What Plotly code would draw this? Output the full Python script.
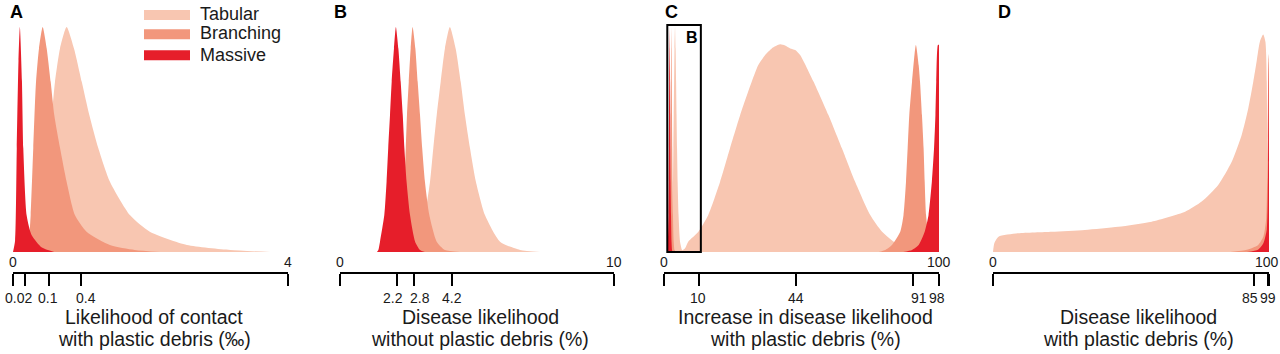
import plotly.graph_objects as go

# ---------------- data ----------------
SERIES = ["Tabular", "Branching", "Massive"]
COLORS = {"Tabular": "#F8C6B1", "Branching": "#F2977C", "Massive": "#E61E2A"}

PANEL_LETTERS = ["A", "B", "C", "D"]
X_MAX = [4, 10, 100, 100]
END_LABELS = [("0", "4"), ("0", "10"), ("0", "100"), ("0", "100")]
TICK_LABELS = [["0.02", "0.1", "0.4"], ["2.2", "2.8", "4.2"],
               ["10", "44", "91", "98"], ["85", "99"]]
# where each labelled tick sits on the drawn axis (axis units, as printed)
TICK_POS = [[0.175, 0.524, 0.989], [2.07, 2.70, 4.08],
            [12.7, 48.0, 90.6, 100], [94.6, 99.8]]
TITLES = [("Likelihood of contact", "with plastic debris (‰)"),
          ("Disease likelihood", "without plastic debris (%)"),
          ("Increase in disease likelihood", "with plastic debris (%)"),
          ("Disease likelihood", "with plastic debris (%)")]

# Panel A : likelihood of contact (‰), relative density
A_TAB_X = [0.218, 0.272, 0.364, 0.49, 0.563, 0.611, 0.684, 0.78, 0.887, 1.0, 1.11, 1.24, 1.41, 1.70, 1.99, 2.53, 3.16, 3.74]
A_TAB_Y = [0, 0.018, 0.164, 0.462, 0.609, 0.757, 0.905, 1.0, 0.905, 0.757, 0.609, 0.462, 0.312, 0.164, 0.09, 0.031, 0.009, 0]
A_BRA_X = [0.19, 0.22, 0.257, 0.295, 0.335, 0.378, 0.432, 0.49, 0.548, 0.60, 0.684, 0.78, 0.90, 1.07, 1.41, 1.77, 2.14]
A_BRA_Y = [0, 0.018, 0.164, 0.462, 0.757, 0.905, 1.0, 0.905, 0.757, 0.609, 0.462, 0.312, 0.164, 0.09, 0.031, 0.009, 0]
A_MAS_X = [0.0, 0.03, 0.055, 0.08, 0.10, 0.13, 0.15, 0.20, 0.27, 0.42, 0.60]
A_MAS_Y = [0.0, 0.05, 0.46, 0.85, 1.0, 0.76, 0.46, 0.16, 0.076, 0.02, 0.0]

# Panel B : disease likelihood without plastic debris (%)
B_TAB_X = [2.3, 2.555, 2.86, 3.10, 3.285, 3.405, 3.53, 3.675, 3.83, 4.01, 4.22, 4.405, 4.56, 4.745, 4.96, 5.29, 5.84, 6.57, 7.3]
B_TAB_Y = [0, 0.009, 0.046, 0.164, 0.312, 0.461, 0.609, 0.757, 0.905, 1.0, 0.905, 0.757, 0.609, 0.461, 0.312, 0.164, 0.046, 0.009, 0]
B_BRA_X = [1.6, 1.82, 2.07, 2.25, 2.35, 2.40, 2.445, 2.51, 2.58, 2.65, 2.75, 2.835, 2.92, 3.0, 3.10, 3.26, 3.53, 3.83, 4.38]
B_BRA_Y = [0, 0.009, 0.046, 0.164, 0.312, 0.461, 0.609, 0.757, 0.905, 1.0, 0.905, 0.757, 0.609, 0.461, 0.312, 0.164, 0.046, 0.009, 0]
B_MAS_X = [1.35, 1.40, 1.46, 1.617, 1.70, 1.76, 1.825, 1.887, 1.97, 2.04, 2.13, 2.215, 2.29, 2.35, 2.43, 2.555, 2.74, 2.92, 3.1]
B_MAS_Y = [0, 0.009, 0.046, 0.164, 0.312, 0.461, 0.609, 0.757, 0.905, 1.0, 0.905, 0.757, 0.609, 0.461, 0.312, 0.164, 0.046, 0.009, 0]

# Panel C : increase in disease likelihood with plastic debris (%)
C_TAB_X = [5.5, 7.6, 8.8, 12.5, 16.1, 20.4, 24.0, 27.7, 31.9, 34.3, 36.8, 39.2, 42.2, 44.0, 45.9, 47.7, 49.5, 54.4, 59.8, 64.7, 69.5, 75.0, 79.3, 85.3, 93.8, 97]
C_TAB_Y = [0, 0.016, 0.046, 0.09, 0.164, 0.312, 0.461, 0.609, 0.757, 0.831, 0.876, 0.905, 0.923, 0.918, 0.905, 0.898, 0.876, 0.757, 0.609, 0.461, 0.312, 0.164, 0.09, 0.031, 0.009, 0]
C_BRA_X = [78, 80.5, 82.9, 85.9, 87.1, 88.0, 88.6, 89.2, 90.2, 91.6, 92.6, 93.1, 93.8, 94.4, 94.8, 95.3, 96.0, 97.4, 99.2, 100]
C_BRA_Y = [0, 0.009, 0.031, 0.09, 0.164, 0.312, 0.461, 0.609, 0.757, 0.92, 0.831, 0.757, 0.609, 0.461, 0.312, 0.164, 0.09, 0.031, 0.009, 0]
C_MAS_X = [87, 90.2, 92.6, 94.8, 96.2, 97.4, 98.2, 98.7, 99.0, 99.6, 100, 100]
C_MAS_Y = [0, 0.009, 0.031, 0.09, 0.164, 0.312, 0.461, 0.609, 0.757, 0.92, 0.92, 0]

# Panel D : disease likelihood with plastic debris (%)
D_TAB_X = [0, 0.5, 2.0, 9.2, 21.3, 33.3, 45.4, 57.5, 69.6, 75.6, 81.6, 86.5, 90.1, 92.5, 94.3, 95.5, 96.7, 97.9, 98.7, 99.2, 99.3]
D_TAB_Y = [0, 0.04, 0.068, 0.083, 0.09, 0.098, 0.112, 0.135, 0.179, 0.224, 0.298, 0.401, 0.52, 0.639, 0.757, 0.846, 0.935, 0.967, 0.935, 0.757, 0]
D_BRA_X = [86, 92, 96, 98, 99.0, 99.5, 99.8, 100, 100]
D_BRA_Y = [0, 0.01, 0.03, 0.07, 0.15, 0.5, 0.85, 0.88, 0]
D_MAS_X = [92, 96, 98, 99.2, 99.7, 100, 100]
D_MAS_Y = [0, 0.01, 0.04, 0.1, 0.4, 0.85, 0]

PANEL_DATA = [
    [("Tabular", A_TAB_X, A_TAB_Y), ("Branching", A_BRA_X, A_BRA_Y), ("Massive", A_MAS_X, A_MAS_Y)],
    [("Tabular", B_TAB_X, B_TAB_Y), ("Branching", B_BRA_X, B_BRA_Y), ("Massive", B_MAS_X, B_MAS_Y)],
    [("Tabular", C_TAB_X, C_TAB_Y),
     ("Tabular", B_TAB_X, B_TAB_Y), ("Branching", B_BRA_X, B_BRA_Y), ("Massive", B_MAS_X, B_MAS_Y),
     ("Branching", C_BRA_X, C_BRA_Y), ("Massive", C_MAS_X, C_MAS_Y)],
    [("Tabular", D_TAB_X, D_TAB_Y), ("Branching", D_BRA_X, D_BRA_Y), ("Massive", D_MAS_X, D_MAS_Y)],
]

# ---------------- layout geometry (pixels) ----------------
W, H = 1280, 354
FONT = "Liberation Sans, Arial, Helvetica, sans-serif"
TXT = "#1a1a1a"
X_DOMAINS_PX = [(13, 288), (340, 614), (664, 939), (993, 1269)]
TITLE_CENTERS_PX = [154, 480, 805, 1138]
LETTER_CENTERS_PX = [16.5, 340.5, 671.5, 1004.5]
LABEL_SHIFT_PX = [[-7, -1, 5], [-4, 6, 0], [-1, 0, 6, -2], [-4.5, 0]]
END_SHIFT_PX = [(0, 0), (0, 0), (0, 0), (0, -2)]
PLOT_TOP_PX, PLOT_BOTTOM_PX, BASE_PX, PEAK_PX = 20, 272, 252, 27


def px_x(p):
    return p / W


def px_y(p):
    return (H - p) / H


unit = (BASE_PX - PEAK_PX)
Y_RANGE = [-(PLOT_BOTTOM_PX - BASE_PX) / unit, (BASE_PX - PLOT_TOP_PX) / unit]

fig = go.Figure()
layout = dict(
    width=W, height=H, margin=dict(l=0, r=0, t=0, b=0),
    paper_bgcolor="white", plot_bgcolor="white", showlegend=False,
    font=dict(family=FONT, color=TXT),
)
annotations = []
shapes = []

for i in range(4):
    n = "" if i == 0 else str(i + 1)
    xa, ya = "x" + n, "y" + n
    for name, xs, ys in PANEL_DATA[i]:
        fig.add_trace(go.Scatter(
            x=xs, y=ys, xaxis=xa, yaxis=ya, mode="lines",
            line=dict(width=0, shape="spline", smoothing=0.6, color=COLORS[name]),
            fill="tozeroy", fillcolor=COLORS[name], name=name, hoverinfo="skip"))

    tv = [0] + list(TICK_POS[i])
    if X_MAX[i] not in tv:
        tv.append(X_MAX[i])
    x0, x1 = X_DOMAINS_PX[i]
    layout["xaxis" + n] = dict(
        domain=[px_x(x0), px_x(x1)], range=[0, X_MAX[i]], anchor=ya,
        showline=True, linecolor="black", linewidth=2,
        ticks="outside", ticklen=12, tickwidth=2, tickcolor="black",
        tickmode="array", tickvals=tv, ticktext=[""] * len(tv), showticklabels=False,
        showgrid=False, zeroline=False, fixedrange=True)
    layout["yaxis" + n] = dict(
        domain=[px_y(PLOT_BOTTOM_PX), px_y(PLOT_TOP_PX)], range=Y_RANGE,
        anchor=xa, visible=False, showgrid=False, zeroline=False, fixedrange=True)

    # labels of the marked values, below the tick marks
    for p, lab, sh in zip(TICK_POS[i], TICK_LABELS[i], LABEL_SHIFT_PX[i]):
        annotations.append(dict(x=p, y=px_y(297.8), xref=xa, yref="paper", text=lab,
                                showarrow=False, xanchor="center", yanchor="middle", xshift=sh,
                                font=dict(size=14, family=FONT, color=TXT)))
    # end labels above the axis line
    for xv, txt, sh in zip((0, X_MAX[i]), END_LABELS[i], END_SHIFT_PX[i]):
        annotations.append(dict(x=xv, y=px_y(262), xref=xa, yref="paper", xshift=sh,
                                text=txt, showarrow=False, xanchor="center", yanchor="middle",
                                font=dict(size=14, family=FONT, color=TXT)))
    # two-line axis title
    for yp, txt in zip((317.4, 339.4), TITLES[i]):
        annotations.append(dict(x=px_x(TITLE_CENTERS_PX[i]), y=px_y(yp), xref="paper", yref="paper",
                                text=txt, showarrow=False, xanchor="center", yanchor="middle",
                                font=dict(size=19.5, family=FONT, color=TXT)))
    # panel letter
    annotations.append(dict(x=px_x(LETTER_CENTERS_PX[i]), y=px_y(11.8), xref="paper", yref="paper",
                            text="<b>%s</b>" % PANEL_LETTERS[i], showarrow=False,
                            xanchor="center", yanchor="middle",
                            font=dict(size=18, family=FONT, color="black")))

# inset box in panel C marking the range of panel B
shapes.append(dict(type="rect", xref="x3", yref="y3", x0=1.2, x1=13.4, y0=0.0, y1=1.009,
                   line=dict(color="black", width=2), fillcolor="rgba(0,0,0,0)"))
annotations.append(dict(x=10.2, y=0.952, xref="x3", yref="y3", text="<b>B</b>", showarrow=False,
                        xanchor="center", yanchor="middle",
                        font=dict(size=16, family=FONT, color="black")))

# legend (drawn in panel A)
LEG_Y_PX = [15, 34.3, 55.3]
LEG_TXT_Y_PX = [13.8, 33.3, 54.5]
for s, yc, yt in zip(SERIES, LEG_Y_PX, LEG_TXT_Y_PX):
    shapes.append(dict(type="rect", xref="paper", yref="paper",
                       x0=px_x(144), x1=px_x(190), y0=px_y(yc + 5), y1=px_y(yc - 5),
                       line=dict(width=0), fillcolor=COLORS[s]))
    annotations.append(dict(x=px_x(198), y=px_y(yt), xref="paper", yref="paper", text=s,
                            showarrow=False, xanchor="left", yanchor="middle",
                            font=dict(size=18, family=FONT, color=TXT)))

layout["annotations"] = annotations
layout["shapes"] = shapes
fig.update_layout(**layout)
fig.write_html("out.html")
